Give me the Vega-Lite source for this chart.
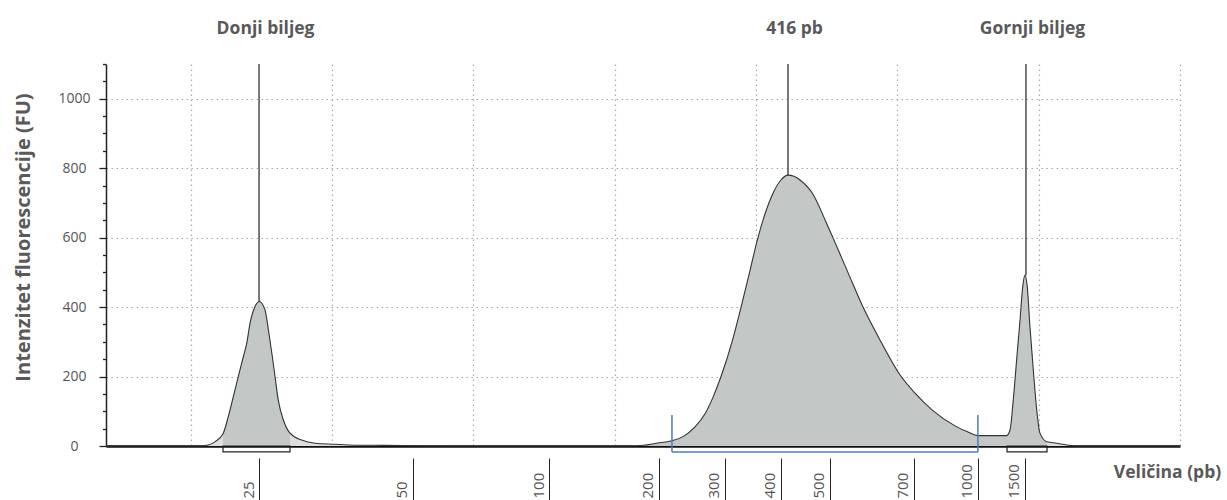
{
  "$schema": "https://vega.github.io/schema/vega-lite/v6.json",
  "width": 1074,
  "height": 382,
  "autosize": {"type": "none"},
  "padding": {"left": 106, "top": 64, "right": 47, "bottom": 54},
  "background": "white",
  "config": {"view": {"stroke": null}, "font": "Open Sans"},
  "datasets": {
    "trace": [
      {"t": 14, "fu": 0}, {"t": 20.5, "fu": 0}, {"t": 21.24, "fu": 3}, {"t": 21.71, "fu": 12},
      {"t": 22.28, "fu": 35}, {"t": 22.65, "fu": 84}, {"t": 23.01, "fu": 142}, {"t": 23.36, "fu": 200},
      {"t": 23.72, "fu": 257}, {"t": 23.96, "fu": 296}, {"t": 24.19, "fu": 353}, {"t": 24.54, "fu": 401},
      {"t": 24.85, "fu": 416}, {"t": 25.25, "fu": 392}, {"t": 25.53, "fu": 324}, {"t": 25.77, "fu": 257},
      {"t": 25.96, "fu": 200}, {"t": 26.19, "fu": 132}, {"t": 26.55, "fu": 75}, {"t": 27.02, "fu": 37},
      {"t": 27.85, "fu": 17}, {"t": 28.79, "fu": 8}, {"t": 30.2, "fu": 5}, {"t": 31.12, "fu": 3},
      {"t": 33, "fu": 2}, {"t": 35, "fu": 1}, {"t": 40, "fu": 0}, {"t": 50, "fu": 0},
      {"t": 51.08, "fu": 0}, {"t": 52.02, "fu": 2}, {"t": 52.97, "fu": 8}, {"t": 54.03, "fu": 15},
      {"t": 54.83, "fu": 27}, {"t": 55.68, "fu": 55}, {"t": 56.39, "fu": 93}, {"t": 56.95, "fu": 140},
      {"t": 57.52, "fu": 200}, {"t": 58.3, "fu": 300}, {"t": 59.0, "fu": 410}, {"t": 59.57, "fu": 505},
      {"t": 60.07, "fu": 590}, {"t": 60.63, "fu": 668}, {"t": 61.2, "fu": 728}, {"t": 61.76, "fu": 766},
      {"t": 62.26, "fu": 780}, {"t": 62.68, "fu": 777}, {"t": 63.11, "fu": 766}, {"t": 64.03, "fu": 725},
      {"t": 64.95, "fu": 645}, {"t": 65.44, "fu": 600}, {"t": 66.5, "fu": 500}, {"t": 67.57, "fu": 400},
      {"t": 68.84, "fu": 300}, {"t": 70.18, "fu": 205}, {"t": 71.25, "fu": 152}, {"t": 72.45, "fu": 104},
      {"t": 74.08, "fu": 58}, {"t": 75.0, "fu": 40}, {"t": 75.7, "fu": 30},
      {"t": 77.73, "fu": 30}, {"t": 77.97, "fu": 46}, {"t": 78.2, "fu": 132}, {"t": 78.44, "fu": 248},
      {"t": 78.68, "fu": 363}, {"t": 78.87, "fu": 459}, {"t": 79.03, "fu": 492}, {"t": 79.19, "fu": 459},
      {"t": 79.38, "fu": 344}, {"t": 79.62, "fu": 219}, {"t": 79.86, "fu": 104}, {"t": 80.09, "fu": 37},
      {"t": 80.59, "fu": 12}, {"t": 81.27, "fu": 8}, {"t": 81.98, "fu": 3}, {"t": 83, "fu": 0},
      {"t": 90, "fu": 0}
    ],
    "peaks": [
      {"t": 24.83, "fu": 416, "name": "Donji biljeg"},
      {"t": 62.26, "fu": 780, "name": "416 pb"},
      {"t": 79.1, "fu": 492, "name": "Gornji biljeg"}
    ],
    "markers": [
      {"start": 22.28, "end": 27.02},
      {"start": 77.76, "end": 80.59}
    ],
    "region": [
      {"start": 54.05, "end": 75.7}
    ]
  },
  "resolve": {"axis": {"x": "independent", "y": "independent"}, "scale": {"x": "shared", "y": "shared"}},
  "layer": [
    {
      "data": {"name": "trace"},
      "mark": {"type": "area", "color": "#dedede", "interpolate": "monotone"},
      "encoding": {
        "x": {
          "field": "t", "type": "quantitative",
          "scale": {"domain": [14, 90], "nice": false, "zero": false},
          "axis": {
            "values": [20, 30, 40, 50, 60, 70, 80, 90],
            "grid": true, "gridDash": [1.5, 3.5], "gridColor": "#a8a8a8", "gridWidth": 1.2,
            "labels": false, "ticks": false,
            "domain": true, "domainColor": "#111111", "domainWidth": 2.5,
            "title": null
          }
        },
        "y": {
          "field": "fu", "type": "quantitative",
          "scale": {"domain": [0, 1100], "nice": false},
          "axis": {
            "orient": "left",
            "title": "Intenzitet fluorescencije (FU)",
            "values": [0, 200, 400, 600, 800, 1000],
            "labelExpr": "'' + datum.value",
            "ticks": true,
            "tickSize": 7,
            "tickWidth": 1.3,
            "tickColor": "#222222",
            "grid": true,
            "gridDash": [1.5, 3.5],
            "gridColor": "#a8a8a8",
            "gridWidth": 1.2,
            "gridOpacity": {"condition": {"test": "datum.value > 0", "value": 1}, "value": 0},
            "domainColor": "#222222", "domainWidth": 1.5,
            "labelAlign": "center", "labelBaseline": "middle", "labelPadding": 25,
            "labelFontSize": 14, "labelColor": "#555555", "labelOverlap": false,
            "titleFontSize": 20, "titleFontWeight": "bold", "titleColor": "#595959",
            "titleX": -77, "titleY": 173, "titleAngle": 270, "titleAlign": "center", "titleBaseline": "alphabetic"
          }
        }
      }
    },
    {
      "data": {"name": "trace"},
      "transform": [{"filter": "datum.t >= 22.28 && datum.t <= 27.02"}],
      "mark": {"type": "area", "color": "#c3c7c5", "interpolate": "monotone"},
      "encoding": {
        "x": {"field": "t", "type": "quantitative", "axis": null},
        "y": {
          "field": "fu", "type": "quantitative",
          "axis": {
            "orient": "left",
            "values": [50, 100, 150, 250, 300, 350, 450, 500, 550, 650, 700, 750, 850, 900, 950, 1050, 1100],
            "ticks": true, "tickSize": 3.5, "tickWidth": 1.3, "tickColor": "#222222",
            "labels": false, "grid": false, "domain": false, "title": null
          }
        }
      }
    },
    {
      "data": {"name": "trace"},
      "transform": [{"filter": "datum.t >= 51 && datum.t <= 80.59"}],
      "mark": {"type": "area", "color": "#c3c7c5", "interpolate": "monotone"},
      "encoding": {
        "x": {"field": "t", "type": "quantitative", "axis": null},
        "y": {"field": "fu", "type": "quantitative", "axis": null}
      }
    },
    {
      "data": {"name": "trace"},
      "mark": {"type": "line", "color": "#333333", "strokeWidth": 1.1, "interpolate": "monotone"},
      "encoding": {
        "x": {"field": "t", "type": "quantitative", "axis": null},
        "y": {"field": "fu", "type": "quantitative", "axis": null}
      }
    },
    {
      "data": {"name": "peaks"},
      "mark": {"type": "rule", "color": "#222222", "strokeWidth": 1.2},
      "encoding": {
        "x": {
          "field": "t", "type": "quantitative",
          "axis": {
            "orient": "top",
            "values": [24.83, 62.26, 79.1],
            "labelExpr": "datum.value < 40 ? 'Donji biljeg' : (datum.value < 70 ? '416 pb' : 'Gornji biljeg')",
            "ticks": false, "domain": false, "grid": false,
            "labelFontSize": 17.5, "labelFontWeight": "bold", "labelColor": "#595959",
            "labelPadding": 27, "labelOffset": 6, "labelOverlap": false, "labelFlush": false,
            "title": null
          }
        },
        "y": {"field": "fu", "type": "quantitative", "axis": null},
        "y2": {"datum": 1100}
      }
    },
    {
      "data": {"name": "markers"},
      "mark": {"type": "rect", "fill": null, "fillOpacity": 0, "stroke": "#222222", "strokeWidth": 1.2},
      "encoding": {
        "x": {
          "field": "start", "type": "quantitative",
          "axis": {
            "orient": "bottom", "offset": 12,
            "values": [24.83, 35.72, 45.35, 53.13, 57.8, 61.76, 65.23, 71.17, 75.7, 79.03],
            "labelExpr": "['25','50','100','200','300','400','500','700','1000','1500'][indexof([24.83, 35.72, 45.35, 53.13, 57.8, 61.76, 65.23, 71.17, 75.7, 79.03], datum.value)]",
            "tickSize": 42, "tickColor": "#222222", "tickWidth": 1,
            "domain": false, "grid": false,
            "labelAngle": 270, "labelAlign": "left", "labelBaseline": "alphabetic",
            "labelPadding": -2, "labelOffset": -6,
            "labelFontSize": 15, "labelColor": "#555555", "labelOverlap": false, "labelFlush": false,
            "title": "Veličina (pb)",
            "titleX": 1061, "titleY": 19, "titleAlign": "center", "titleBaseline": "alphabetic",
            "titleFontSize": 17.5, "titleFontWeight": "bold", "titleColor": "#595959"
          }
        },
        "x2": {"field": "end"},
        "y": {"datum": 0, "axis": null},
        "y2": {"datum": -17}
      }
    },
    {
      "data": {"name": "region"},
      "mark": {"type": "rule", "color": "#4a7ebb", "strokeWidth": 1.5},
      "encoding": {
        "x": {"field": "start", "type": "quantitative", "axis": null},
        "x2": {"field": "end"},
        "y": {"datum": -17, "axis": null}
      }
    },
    {
      "data": {"name": "region"},
      "transform": [{"fold": ["start", "end"], "as": ["side", "pos"]}],
      "mark": {"type": "rule", "color": "#4a7ebb", "strokeWidth": 1.5},
      "encoding": {
        "x": {"field": "pos", "type": "quantitative", "axis": null},
        "y": {"datum": -17, "axis": null},
        "y2": {"datum": 89}
      }
    }
  ]
}
